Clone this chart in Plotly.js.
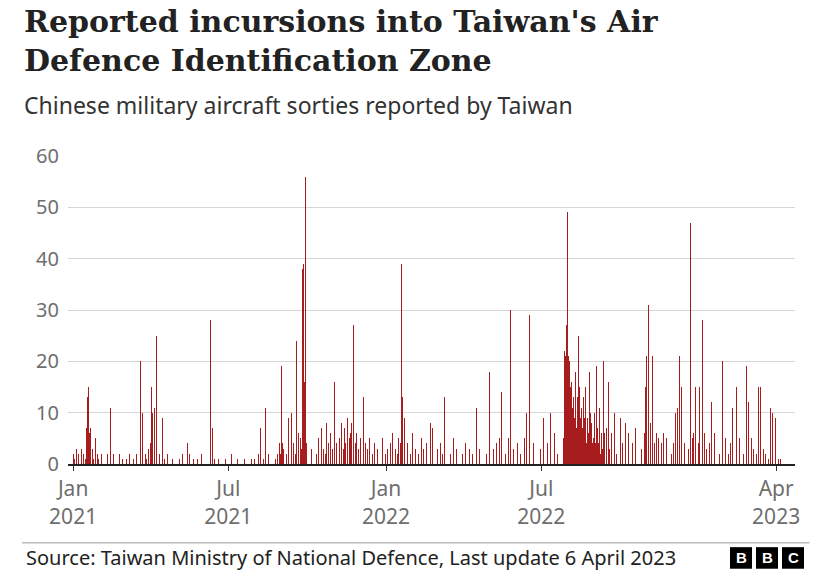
<!DOCTYPE html>
<html>
<head>
<meta charset="utf-8">
<script src="https://cdn.plot.ly/plotly-3.0.1.min.js"></script>
<style>
  body { margin: 0; background: #fff; }
  #chart { width: 826px; height: 584px; }
</style>
</head>
<body>
<div id="chart"></div>
<script>
// [days since 1 Jan 2021, sorties reported that day]; days not listed = 0
const sorties2021a = [
  [0,2],[1,4],[2,1],[4,3],[6,2],[8,1],[10,3],[12,2],[14,1],[16,7],[17,13],[18,15],[19,6],[20,7],
  [22,2],[23,3],[24,1],[26,5],[28,2],[30,1],[33,2],[36,1],[40,2],[43,1],[44,11],[47,2],[50,1],
  [54,2],[58,1],[62,1],[66,2],[70,1],[74,2],[79,20],[81,10],[84,2],[86,1],[88,3],[90,4],[91,15],
  [93,10],[95,11],[97,25],[99,5],[101,2],[104,9],[107,1],[110,2],[113,5],[116,1],[120,2],[124,1],
  [128,2],[133,4],[136,2],[140,1],[145,1],[150,2],[155,1],[160,28],[163,7],[165,1],[170,1],[178,1]
];
const sorties2021b = [
  [185,2],[192,1],[200,1],[208,1],[212,1],[216,2],[219,7],[222,1],[224,11],[228,2],[232,3],[236,1],
  [238,2],[241,4],[242,2],[243,19],[244,4],[245,3],[246,4],[249,2],[251,9],[253,9],[255,10],[257,4],
  [259,2],[261,24],[263,6],[265,5],[266,3],[268,38],[269,39],[270,16],[271,56],[272,4],[274,2],[278,3],
  [284,2],[286,5],[288,3],[290,7],[292,3],[294,2],[296,8],[298,4],[300,6],[302,2],[303,3],[305,16],
  [307,4],[309,6],[311,5],[313,8],[315,3],[317,7],[318,4],[320,9],[322,5],[324,6],[325,8],[327,27],
  [329,4],[331,6],[333,3],[335,5],[337,2],[339,13],[341,4],[343,3],[346,5],[349,2],[352,4],[355,3],
  [358,2],[361,5],[364,2]
];
const sorties2022a = [
  [367,3],[370,4],[373,6],[376,3],[378,2],[380,5],[382,4],[383,39],[384,13],[387,9],[390,4],[393,2],
  [396,6],[399,3],[401,11],[403,2],[406,5],[409,3],[412,4],[415,9],[417,8],[419,7],[422,2],[425,3],
  [428,4],[431,2],[433,13],[436,4],[440,2],[444,5],[447,3],[450,13],[454,2],[458,4],[462,3],[466,2],
  [470,11],[474,3],[478,6],[482,2],[486,18],[490,3],[494,4],[497,5],[500,14],[504,2],[508,5],[510,30],
  [514,3],[518,4],[522,2],[526,5],[529,10],[532,29],[534,22],[537,4],[541,2],[545,3],[549,9]
];
const sorties2022b = [
  [553,4],[557,10],[561,6],[565,2],[569,4],[572,5],[573,22],[574,21],[575,27],[576,22],[577,49],
  [578,21],[579,20],[580,15],[581,16],[582,11],[583,7],[584,13],[585,9],[586,18],[587,7],[588,13],
  [589,25],[590,8],[591,15],[592,9],[593,11],[594,7],[595,13],[596,9],[597,5],[598,15],[599,4],
  [600,9],[601,6],[602,18],[603,10],[604,23],[605,8],[606,4],[607,5],[608,10],[609,4],[610,19],
  [611,25],[612,7],[613,4],[614,11],[615,2],[616,6],[617,3],[618,4],[619,20],[620,6],[622,7],
  [624,16],[626,3],[628,6],[631,10],[634,2],[638,9],[641,4],[644,8],[648,6],[652,4],[656,7],
  [660,9],[663,3],[666,6],[668,15],[669,21],[671,31],[673,8],[676,21],[678,4],[680,6],[683,5],
  [686,4],[689,6],[692,5],[695,3],[698,2],[700,4],[703,10],[705,11],[707,21],[710,15],[713,4],
  [716,30],[718,3],[720,47],[722,5],[724,6],[726,15],[729,4],[731,15],[734,28],[736,6]
];
const sorties2023 = [
  [739,3],[742,4],[745,12],[748,6],[751,3],[754,2],[757,20],[758,16],[761,5],[764,2],[767,4],
  [769,11],[772,3],[774,15],[777,5],[779,12],[782,2],[785,19],[786,21],[788,12],[791,5],[794,3],
  [797,2],[799,15],[802,15],[805,3],[808,2],[811,1],[813,11],[816,10],[819,9],[821,2],[823,1],[825,1]
];
const tickDays = [0, 181, 365, 546, 820];
const tickLabels = ["Jan<br>2021", "Jul<br>2021", "Jan<br>2022", "Jul<br>2022", "Apr<br>2023"];

const toDate = d => new Date(Date.UTC(2021, 0, 1 + d)).toISOString().slice(0, 10);
const rows = [...sorties2021a, ...sorties2021b, ...sorties2022a, ...sorties2022b, ...sorties2023];

const trace = {
  type: "bar",
  x: rows.map(r => toDate(r[0])),
  y: rows.map(r => r[1]),
  marker: { color: "#a71d1d", line: { width: 0 } },
  hoverinfo: "x+y"
};

const layout = {
  width: 826, height: 584,
  margin: { l: 68, r: 31, t: 156, b: 120 },
  paper_bgcolor: "#fff", plot_bgcolor: "#fff",
  bargap: 0,
  showlegend: false,
  font: { family: "Noto Sans, sans-serif", color: "#222" },
  xaxis: {
    type: "date",
    range: ["2020-12-26", "2023-04-23"],
    tickvals: tickDays.map(toDate),
    ticktext: tickLabels,
    tickfont: { size: 21, color: "#6e6e6e" },
    showgrid: false,
    ticks: "outside", ticklen: 5, tickcolor: "#333",
    showline: true, linecolor: "#222", linewidth: 2,
    zeroline: false
  },
  yaxis: {
    range: [0, 60],
    tickvals: [0, 10, 20, 30, 40, 50, 60],
    tickfont: { size: 20, color: "#6e6e6e" },
    gridcolor: "#d6d6d6", gridwidth: 1,
    zeroline: false,
    ticks: "", ticklabelstandoff: 8
  },
  annotations: [
    { xref: "paper", yref: "paper", x: -0.063, y: 1.5, xanchor: "left", yanchor: "top",
      text: "<b>Reported incursions into Taiwan's Air<br>Defence Identification Zone</b>",
      showarrow: false, align: "left",
      font: { family: "DejaVu Serif, serif", size: 30, color: "#222" } },
    { xref: "paper", yref: "paper", x: -0.063, y: 1.225, xanchor: "left", yanchor: "top",
      text: "Chinese military aircraft sorties reported by Taiwan",
      showarrow: false, align: "left",
      font: { family: "Noto Sans, sans-serif", size: 23, color: "#333" } },
    { xref: "paper", yref: "paper", x: -0.06, y: -0.305, xanchor: "left", yanchor: "middle",
      text: "Source: Taiwan Ministry of National Defence, Last update 6 April 2023",
      showarrow: false, align: "left",
      font: { family: "Noto Sans, sans-serif", size: 20, color: "#222" } },
    ...["B", "B", "C"].map((t, i) => ({
      xref: "paper", yref: "paper", x: (741 + i * 26 - 68) / 727, y: -0.305,
      xanchor: "center", yanchor: "middle", text: "<b>" + t + "</b>", showarrow: false,
      font: { family: "Liberation Sans, sans-serif", size: 15, color: "#fff" }
    }))
  ],
  shapes: [
    { type: "line", xref: "paper", yref: "paper", x0: -0.063, x1: 1.02, y0: -0.256, y1: -0.256,
      line: { color: "#999", width: 1 } },
    ...[0, 1, 2].map(i => ({
      type: "rect", xref: "paper", yref: "paper",
      x0: (730 + i * 26 - 68) / 727, x1: (752 + i * 26 - 68) / 727,
      y0: -0.34, y1: -0.27, fillcolor: "#000", line: { width: 0 }
    }))
  ]
};

Plotly.newPlot("chart", [trace], layout, { displayModeBar: false, staticPlot: true });
</script>
</body>
</html>
